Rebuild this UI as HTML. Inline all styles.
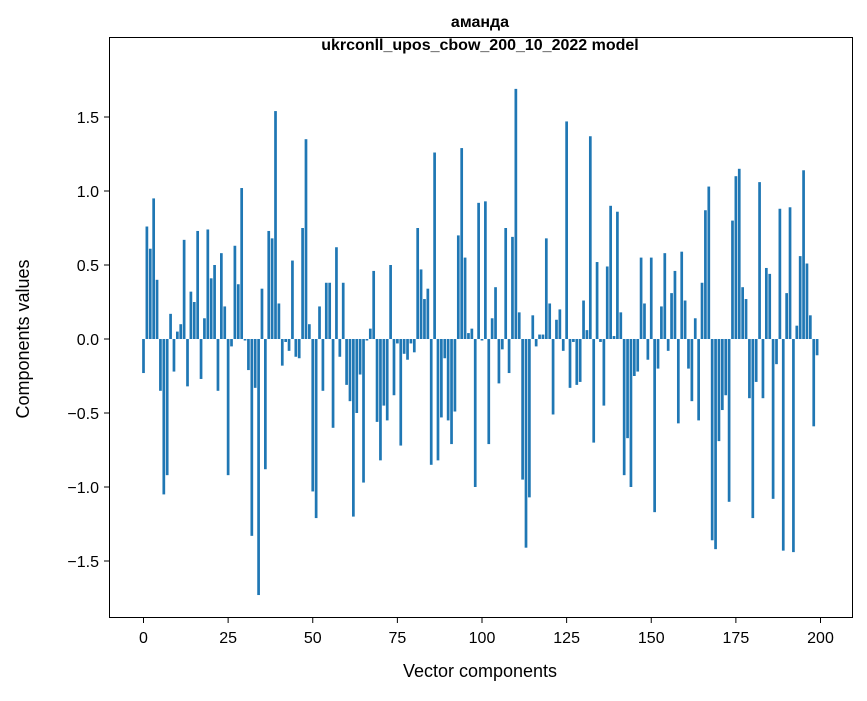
<!DOCTYPE html>
<html><head><meta charset="utf-8"><style>
body{margin:0;background:#fff}
text{font-family:"Liberation Sans","DejaVu Sans",sans-serif;fill:#000}
</style></head><body>
<svg id="chart" width="867" height="696" xmlns="http://www.w3.org/2000/svg">
<rect width="867" height="696" fill="#fff"/>
<text x="480" y="27" text-anchor="middle" font-size="16" font-weight="bold">аманда</text>
<text x="480" y="50" text-anchor="middle" font-size="16" font-weight="bold">ukrconll_upos_cbow_200_10_2022 model</text>
<g id="bars"></g>
<g id="axes"></g>
<rect x="109.5" y="37.5" width="743" height="580" fill="none" stroke="#000" stroke-width="1"/>
<text x="480" y="677" text-anchor="middle" font-size="18">Vector components</text>
<text transform="translate(29,339) rotate(-90)" text-anchor="middle" font-size="18">Components values</text>
</svg>
<script>
const values=[-0.23,0.76,0.61,0.95,0.40,-0.35,-1.05,-0.92,0.17,-0.22,0.05,0.10,0.67,-0.32,0.32,0.25,0.73,-0.27,0.14,0.74,
0.41,0.50,-0.35,0.58,0.22,-0.92,-0.05,0.63,0.37,1.02,-0.01,-0.21,-1.33,-0.33,-1.73,0.34,-0.88,0.73,0.68,1.54,
0.24,-0.18,-0.02,-0.08,0.53,-0.12,-0.13,0.75,1.35,0.10,-1.03,-1.21,0.22,-0.35,0.38,0.38,-0.60,0.62,-0.12,0.38,
-0.31,-0.42,-1.20,-0.50,-0.24,-0.97,-0.01,0.07,0.46,-0.56,-0.82,-0.45,-0.55,0.50,-0.38,-0.03,-0.72,-0.10,-0.14,-0.03,
-0.09,0.75,0.47,0.27,0.34,-0.85,1.26,-0.82,-0.53,-0.13,-0.55,-0.71,-0.49,0.70,1.29,0.55,0.04,0.07,-1.00,0.92,
-0.01,0.93,-0.71,0.14,0.35,-0.30,-0.07,0.75,-0.23,0.69,1.69,0.18,-0.95,-1.41,-1.07,0.16,-0.05,0.03,0.03,0.68,
0.24,-0.51,0.13,0.20,-0.08,1.47,-0.33,-0.02,-0.31,-0.29,0.26,0.06,1.37,-0.70,0.52,-0.02,-0.45,0.49,0.90,0.02,
0.86,0.18,-0.92,-0.67,-1.00,-0.25,-0.22,0.55,0.24,-0.14,0.55,-1.17,-0.20,0.22,0.58,-0.08,0.31,0.46,-0.57,0.59,
0.26,-0.20,-0.42,0.14,-0.55,0.38,0.87,1.03,-1.36,-1.42,-0.69,-0.48,-0.38,-1.10,0.80,1.10,1.15,0.35,0.27,-0.40,
-1.21,-0.29,1.06,-0.40,0.48,0.44,-1.08,-0.17,0.88,-1.43,0.31,0.89,-1.44,0.09,0.56,1.14,0.51,0.16,-0.59,-0.11];
const xTicks=[0,25,50,75,100,125,150,175,200];
const yTicks=[-1.5,-1.0,-0.5,0.0,0.5,1.0,1.5];
const NS="http://www.w3.org/2000/svg";
function xs(v){return 143.5+v*(820.5-143.5)/200;}
function ys(v){return 339-v*148;}
const bars=document.getElementById('bars');
values.forEach((v,i)=>{
  const r=document.createElementNS(NS,'rect');
  
  
  const w=0.8*(xs(1)-xs(0));
  r.setAttribute('x',xs(i)-w/2);
  r.setAttribute('width',w);
  r.setAttribute('y',Math.min(ys(v),ys(0)));
  r.setAttribute('height',Math.abs(ys(v)-ys(0)));
  r.setAttribute('fill','#1f77b4');
  bars.appendChild(r);
});
const axes=document.getElementById('axes');
xTicks.forEach(t=>{
  const l=document.createElementNS(NS,'line');
  
  
  l.setAttribute('x1',xs(t));l.setAttribute('x2',xs(t));
  l.setAttribute('y1',618);l.setAttribute('y2',623);
  l.setAttribute('stroke','#000');
  axes.appendChild(l);
  const tx=document.createElementNS(NS,'text');
  
  
  tx.setAttribute('x',xs(t));tx.setAttribute('y',643);
  tx.setAttribute('text-anchor','middle');tx.setAttribute('font-size','16');
  tx.textContent=t;
  axes.appendChild(tx);
});
yTicks.forEach(t=>{
  const l=document.createElementNS(NS,'line');
  
  
  l.setAttribute('x1',104);l.setAttribute('x2',109);
  l.setAttribute('y1',ys(t));l.setAttribute('y2',ys(t));
  l.setAttribute('stroke','#000');
  axes.appendChild(l);
  const tx=document.createElementNS(NS,'text');
  
  
  tx.setAttribute('x',99);tx.setAttribute('y',ys(t)+6);
  tx.setAttribute('text-anchor','end');tx.setAttribute('font-size','16');
  tx.textContent=(t<0?'\u2212':'')+Math.abs(t).toFixed(1);
  axes.appendChild(tx);
});
</script>
</body></html>
